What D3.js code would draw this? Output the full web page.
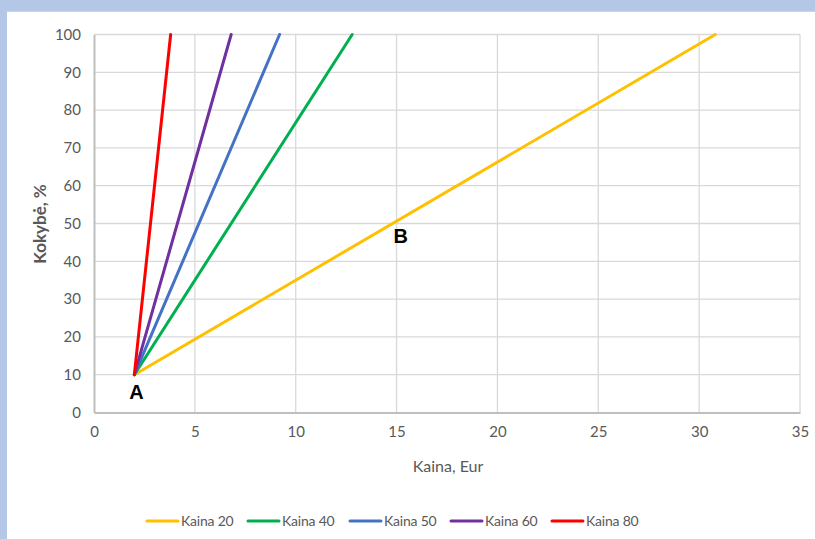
<!DOCTYPE html>
<html><head><meta charset="utf-8">
<script src="https://cdn.jsdelivr.net/npm/d3@7"></script>
<style>
html,body{margin:0;padding:0;background:#b4c7e7;}
svg{display:block;}
</style></head><body>
<svg id="c" width="815" height="539"></svg>
<script>
const seriesNames = ["Kaina 20","Kaina 40","Kaina 50","Kaina 60","Kaina 80"];
const seriesColors = ["#FFC000","#00B050","#4472C4","#7030A0","#FF0000"];
const kaina20 = [{x:2,y:10},{x:30.8,y:100}];
const kaina40 = [{x:2,y:10},{x:12.8,y:100}];
const kaina50 = [{x:2,y:10},{x:9.2,y:100}];
const kaina60 = [{x:2,y:10},{x:6.8,y:100}];
const kaina80 = [{x:2,y:10},{x:3.8,y:100}];
const seriesData = [kaina20,kaina40,kaina50,kaina60,kaina80];
const xTicks = [0,5,10,15,20,25,30,35];
const yTicks = [0,10,20,30,40,50,60,70,80,90,100];
const annotations = [{t:"A",x:2.1,y:3.6},{t:"B",x:15.2,y:44.8}];

const font = "Lato,'Open Sans',sans-serif";
const svg = d3.select("#c");
svg.append("rect").attr("x",7).attr("y",11).attr("width",808).attr("height",528).attr("fill","#fff");
svg.append("line").attr("x1",7).attr("x2",815).attr("y1",11.5).attr("y2",11.5).attr("stroke","#d0d4dc");

const x = d3.scaleLinear().domain([0,35]).range([94,800]);
const y = d3.scaleLinear().domain([0,100]).range([412.5,34.5]);

const g = svg.append("g");
g.selectAll(".hg").data(yTicks.filter(d=>d>0)).join("line")
 .attr("x1",x(0)).attr("x2",x(35)).attr("y1",d=>y(d)).attr("y2",d=>y(d))
 .attr("stroke","#d9d9d9").attr("stroke-width",1.3);
g.selectAll(".vg").data(xTicks.filter(d=>d>0)).join("line")
 .attr("y1",y(0)).attr("y2",y(100)).attr("x1",d=>x(d)).attr("x2",d=>x(d))
 .attr("stroke","#d9d9d9").attr("stroke-width",1.3);

const xAxis = d3.axisBottom(x).tickValues(xTicks).tickSize(0).tickPadding(14);
const yAxis = d3.axisLeft(y).tickValues(yTicks).tickSize(0).tickPadding(13);
const gx = svg.append("g").attr("transform",`translate(0,${y(0)})`).call(xAxis);
const gy = svg.append("g").attr("transform",`translate(${x(0)},0)`).call(yAxis);
[gx,gy].forEach(a=>{
  a.select(".domain").attr("stroke","#bfbfbf").attr("stroke-width",2);
  a.selectAll("text").attr("fill","#595959").style("font-family",font).style("font-size","15px");
});

const line = d3.line().x(d=>x(d.x)).y(d=>y(d.y));
svg.append("g").selectAll("path").data(seriesData).join("path")
 .attr("d",line).attr("fill","none")
 .attr("stroke",(d,i)=>seriesColors[i]).attr("stroke-width",3).attr("stroke-linecap","round");

svg.selectAll(".ann").data(annotations).join("text")
 .attr("x",d=>x(d.x)).attr("y",d=>y(d.y)).attr("text-anchor","middle")
 .style("font-family","'Liberation Sans',Arial,sans-serif").style("font-weight","bold").style("font-size","20px")
 .attr("fill","#000").text(d=>d.t);

svg.append("text").attr("x",448).attr("y",472).attr("text-anchor","middle")
 .style("font-family",font).style("font-size","16px").attr("fill","#595959").text("Kaina, Eur");
svg.append("text").attr("transform","translate(46,224) rotate(-90)").attr("text-anchor","middle")
 .style("font-family",font).style("font-size","17px").style("font-weight","bold").attr("fill","#595959").text("Kokybė, %");

const lx = [147,248,350,451,552];
const lg = svg.append("g").selectAll("g").data(seriesNames).join("g")
 .attr("transform",(d,i)=>`translate(${lx[i]},521)`);
lg.append("line").attr("x1",0).attr("x2",31).attr("y1",0).attr("y2",0)
 .attr("stroke",(d,i)=>seriesColors[i]).attr("stroke-width",3).attr("stroke-linecap","round");
lg.append("text").attr("x",34).attr("y",5).style("font-family",font).style("font-size","14px")
 .style("letter-spacing","-0.2px").attr("fill","#595959").text(d=>d);
</script>
</body></html>
